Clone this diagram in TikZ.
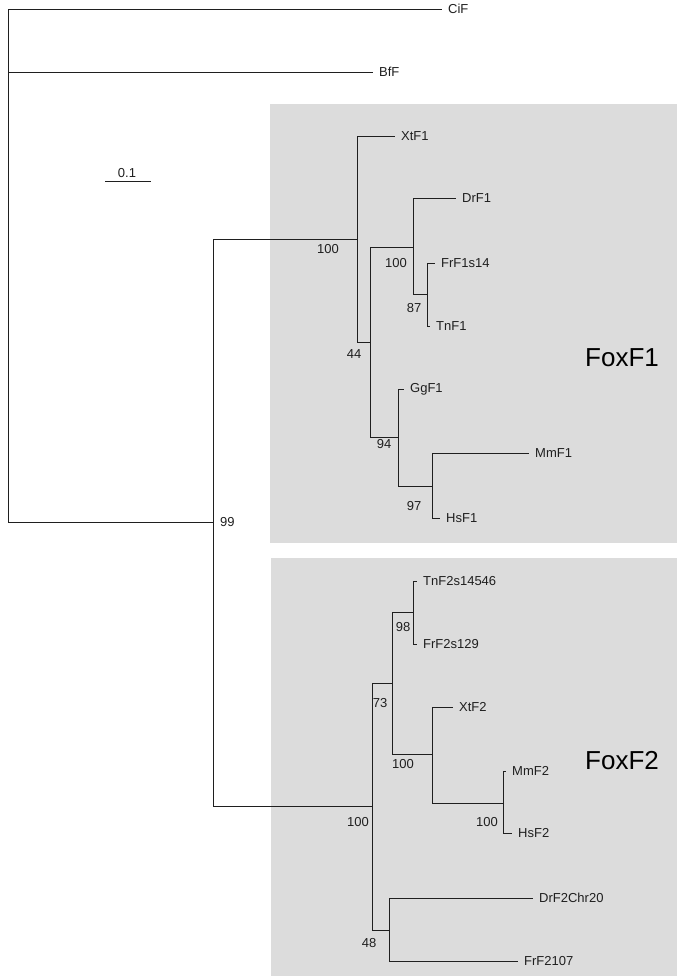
\documentclass[tikz,border=0pt]{standalone}
\usepackage{fontspec}
\setmainfont{Liberation Sans}
\definecolor{boxgray}{HTML}{DCDCDC}
\definecolor{ink}{HTML}{1F1F1F}
\begin{document}
\begin{tikzpicture}[x=1pt,y=-1pt,
  branch/.style={draw=ink,line width=0.9pt},
  leaf/.style={anchor=west,inner xsep=6pt,inner ysep=0pt,font=\fontsize{13}{15}\selectfont,text=ink},
  support/.style={inner sep=0pt,font=\fontsize{13}{15}\selectfont,text=ink},
  clade/.style={inner sep=0pt,font=\fontsize{26}{30}\selectfont,text=black},
  groupbox/.style={fill=boxgray,draw=none}]
\useasboundingbox (0,0) rectangle (677,976);
% clade boxes
\fill[groupbox] (270,104) rectangle (677,543);
\fill[groupbox] (271,558) rectangle (677,976);
\node[clade] (foxf1) at (622,358) {FoxF1};
\node[clade] (foxf2) at (622,761) {FoxF2};
% internal nodes
\coordinate (r) at (8,72);
\coordinate (n99) at (213,522);
\coordinate (a) at (357,239);
\coordinate (n44) at (370,342);
\coordinate (nDr) at (413,247);
\coordinate (n87) at (427,294);
\coordinate (n94) at (398,437);
\coordinate (n97) at (432,486);
\coordinate (b) at (372,806);
\coordinate (n73) at (392,683);
\coordinate (n98) at (413,612);
\coordinate (nX2) at (432,754);
\coordinate (nM2) at (503,803);
\coordinate (n48) at (389,930);
% leaves
\node[leaf] (CiF) at (442,9) {CiF};
\node[leaf] (BfF) at (373,72) {BfF};
\node[leaf] (XtF1) at (395,136) {XtF1};
\node[leaf] (DrF1) at (456,198) {DrF1};
\node[leaf] (FrF1s14) at (435,263) {FrF1s14};
\node[leaf] (TnF1) at (430,326) {TnF1};
\node[leaf] (GgF1) at (404,389) {GgF1};
\node[leaf] (MmF1) at (529,453) {MmF1};
\node[leaf] (HsF1) at (440,518) {HsF1};
\node[leaf] (TnF2) at (417,581) {TnF2s14546};
\node[leaf] (FrF2s) at (417,644) {FrF2s129};
\node[leaf] (XtF2) at (453,707) {XtF2};
\node[leaf] (MmF2) at (506,771) {MmF2};
\node[leaf] (HsF2) at (512,833) {HsF2};
\node[leaf] (DrF2) at (533,898) {DrF2Chr20};
\node[leaf] (FrF2) at (518,961) {FrF2107};
% branches
\draw[branch] (r) |- (CiF.west);
\draw[branch] (r) -- (BfF.west);
\draw[branch] (r) |- (n99);
\draw[branch] (n99) |- (a);
\draw[branch] (n99) |- (b);
\draw[branch] (a) |- (XtF1.west);
\draw[branch] (a) |- (n44);
\draw[branch] (n44) |- (nDr);
\draw[branch] (n44) |- (n94);
\draw[branch] (nDr) |- (DrF1.west);
\draw[branch] (nDr) |- (n87);
\draw[branch] (n87) |- (FrF1s14.west);
\draw[branch] (n87) |- (TnF1.west);
\draw[branch] (n94) |- (GgF1.west);
\draw[branch] (n94) |- (n97);
\draw[branch] (n97) |- (MmF1.west);
\draw[branch] (n97) |- (HsF1.west);
\draw[branch] (b) |- (n73);
\draw[branch] (b) |- (n48);
\draw[branch] (n73) |- (n98);
\draw[branch] (n73) |- (nX2);
\draw[branch] (n98) |- (TnF2.west);
\draw[branch] (n98) |- (FrF2s.west);
\draw[branch] (nX2) |- (XtF2.west);
\draw[branch] (nX2) |- (nM2);
\draw[branch] (nM2) |- (MmF2.west);
\draw[branch] (nM2) |- (HsF2.west);
\draw[branch] (n48) |- (DrF2.west);
\draw[branch] (n48) |- (FrF2.west);
% support values
\node[support,anchor=west] (s99) at (220,522) {99};
\node[support] (s100a) at (328,249) {100};
\node[support] (s44) at (354,354) {44};
\node[support] (s100b) at (396,263) {100};
\node[support] (s87) at (414,308) {87};
\node[support] (s94) at (384,444) {94};
\node[support] (s97) at (414,506) {97};
\node[support] (s100c) at (358,822) {100};
\node[support] (s73) at (380,703) {73};
\node[support] (s98) at (403,627) {98};
\node[support] (s100d) at (403,764) {100};
\node[support] (s100e) at (487,822) {100};
\node[support] (s48) at (369,943) {48};
% scale bar
\coordinate (sb1) at (105,181);
\coordinate (sb2) at (151,181);
\draw[branch] (sb1) -- (sb2);
\node[support] (sblab) at (127,173) {0.1};
\end{tikzpicture}
\end{document}
